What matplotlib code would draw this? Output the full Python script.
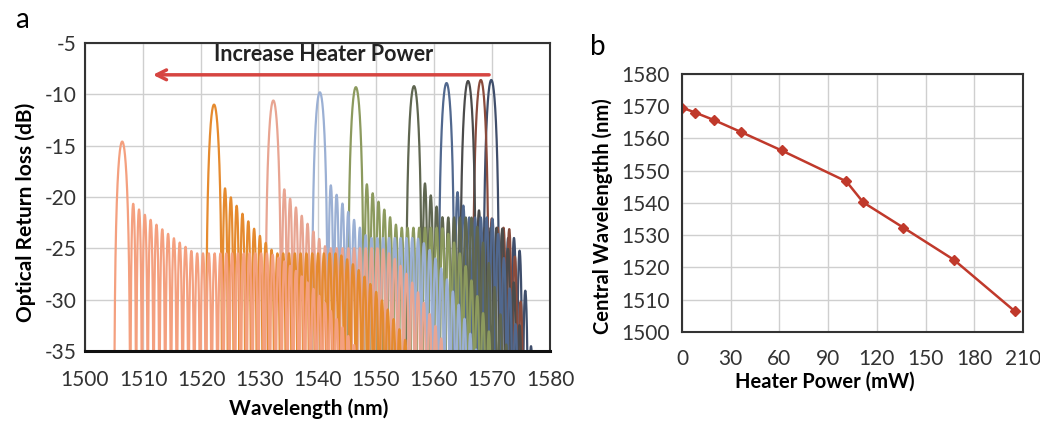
import numpy as np
import matplotlib
matplotlib.use("Agg")
import matplotlib.pyplot as plt

plt.rcParams['font.family'] = ['Lato', 'DejaVu Sans']
plt.rcParams['axes.unicode_minus'] = False

# panel a: reflection spectra
centers = [1569.9, 1568.1, 1565.9, 1562.2, 1556.6, 1546.6, 1540.4, 1532.4, 1522.2, 1506.4]
peak_db = [-8.6, -8.6, -8.7, -8.9, -9.2, -9.3, -9.8, -10.6, -11.0, -14.6]
sidelobe_db = [-18.4, -17.6, -17.1, -16.3, -15.8, -16.6, -16.6, -17.0, -17.0, -19.3]
plateau_db = [-24, -23, -23, -22, -22, -23, -24, -25, -25.5, -25.5]
edge_nm = [1577, 1576, 1575.5, 1575, 1573, 1571, 1568, 1563, 1557, 1548]
colors = ['#3f4e6b', '#8a4b3c', '#4b4b4b', '#51688e', '#5f6650',
          '#8c9a5e', '#9bb0d4', '#e8a592', '#e58a2e', '#f4a07f']
lobe_period = 1.0
main_halfwidth = 1.4

# panel b: central wavelength vs heater power
power_mw = [0, 8.3, 19.8, 36.4, 61.3, 101.2, 111.6, 136.2, 167.4, 204.8]
central_nm = [1569.6, 1568.0, 1565.7, 1562.0, 1556.3, 1546.7, 1540.2, 1532.4, 1522.4, 1506.5]


def spectrum(wl, c, pk, sl, pl, edge):
    d = wl - c
    y = np.full_like(wl, -40.0)
    # main lobe
    m = np.abs(d) < main_halfwidth
    y[m] = pk + 20 * np.log10(np.maximum(np.cos(np.pi / 2 * d[m] / main_halfwidth), 1e-3))
    # side lobes on the long wavelength side
    s = (d >= main_halfwidth) & (wl <= edge)
    t = d[s] / (edge - c)
    top = np.where(t < 0.6,
                   sl + (pl - sl) * np.minimum(1, t / 0.3) ** 0.8,
                   pl + (-36 - pl) * ((t - 0.6) / 0.4) ** 1.5)
    osc = np.sin(np.pi * (d[s] - main_halfwidth) / lobe_period) ** 2
    y[s] = top + 10 * np.log10(osc + 0.002)
    return y


fig = plt.figure(figsize=(10.4, 4.23), dpi=100)
ax1 = fig.add_axes([85 / 1040, 72 / 423, 465 / 1040, 308 / 423])
ax2 = fig.add_axes([682 / 1040, 91 / 423, 341 / 1040, 258 / 423])

wl = np.linspace(1500, 1580, 16000)
for c, pk, sl, pl, e, col in zip(centers, peak_db, sidelobe_db, plateau_db, edge_nm, colors):
    ax1.plot(wl, spectrum(wl, c, pk, sl, pl, e), color=col, lw=1.6)

ax1.set_xlim(1500, 1580)
ax1.set_ylim(-35, -5)
ax1.set_xticks(range(1500, 1581, 10))
ax1.set_yticks(range(-35, -4, 5))
ax1.annotate('', xy=(1511.2, -8.1), xytext=(1570, -8.1),
             arrowprops=dict(arrowstyle='->, head_length=0.7, head_width=0.35',
                             color='#d64541', lw=2.5))
ax1.text(1541, -6.1, 'Increase Heater Power', ha='center', va='center',
         fontsize=15.5, fontweight='bold', color='#222222')
ax1.set_xlabel('Wavelength (nm)', fontsize=15, fontweight='bold', labelpad=6, x=0.48)
ax1.set_ylabel('Optical Return loss (dB)', fontsize=15, fontweight='bold', labelpad=6, y=0.45)

ax2.plot(power_mw, central_nm, color='#c0392b', lw=1.8, marker='D', ms=5)
ax2.set_xlim(0, 210)
ax2.set_ylim(1500, 1580)
ax2.set_xticks(range(0, 211, 30))
ax2.set_yticks(range(1500, 1581, 10))
ax2.set_xlabel('Heater Power (mW)', fontsize=14.5, fontweight='bold', labelpad=2, x=0.42)
ax2.set_ylabel('Central Wavelengthh (nm)', fontsize=14.5, fontweight='bold', labelpad=6, y=0.45)

for ax in (ax1, ax2):
    ax.grid(True, color='#cfcfcf', lw=1)
    ax.set_axisbelow(True)
    ax.tick_params(length=0, labelsize=15, colors='#333333')
    for sp in ax.spines.values():
        sp.set_color('#333333')
        sp.set_linewidth(1.5)
ax1.tick_params(axis='x', pad=14)
ax1.tick_params(axis='y', pad=6)
ax2.tick_params(axis='x', pad=12)
ax2.tick_params(axis='y', pad=9)
ax1.spines['bottom'].set_linewidth(2.2)
ax1.spines['bottom'].set_color('#111111')

fig.text(22 / 1040, 1 - 20 / 423, 'a', fontsize=20, ha='center', va='center')
fig.text(598 / 1040, 1 - 47 / 423, 'b', fontsize=20, ha='center', va='center')

fig.savefig('out.png', dpi=100)
